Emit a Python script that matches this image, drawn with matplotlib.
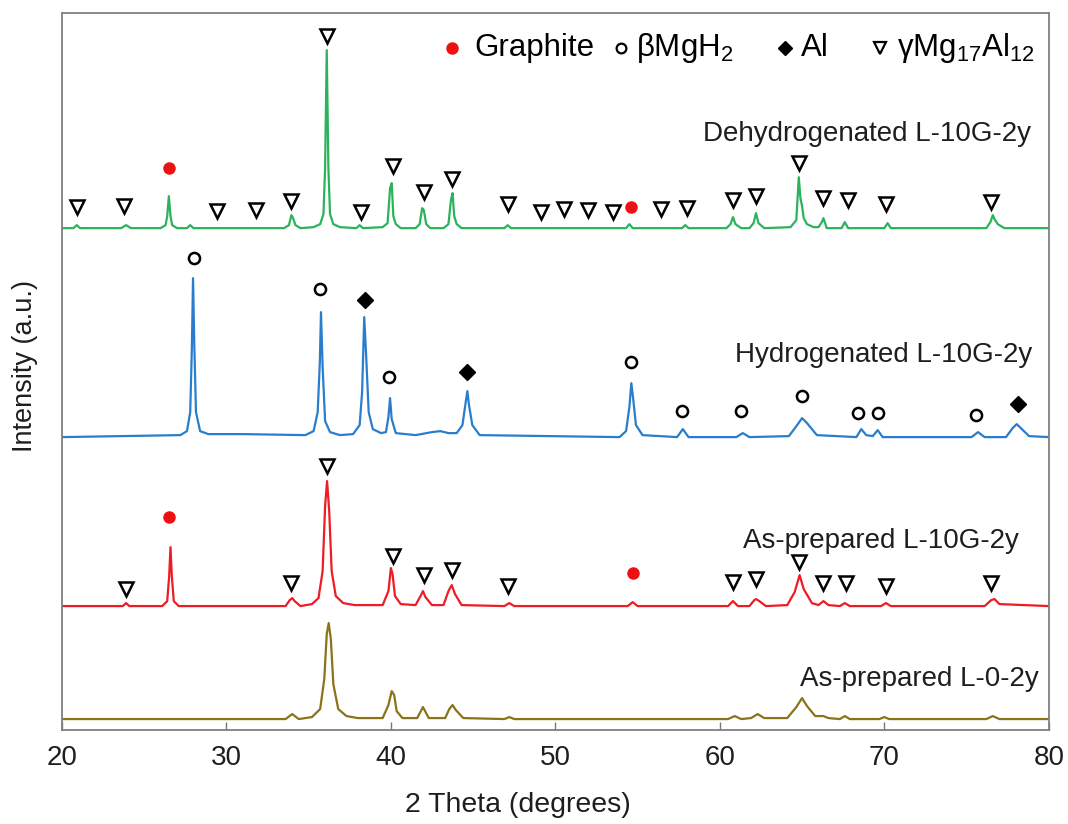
import matplotlib.pyplot as plt

plt.rcParams['font.family'] = ['Liberation Sans', 'DejaVu Sans']
plt.rcParams['mathtext.fontset'] = 'custom'
plt.rcParams['mathtext.rm'] = 'Liberation Sans'
plt.rcParams['mathtext.it'] = 'Liberation Sans'

# ---------------------------------------------------------------
# XRD patterns (2 theta, intensity above the trace's own baseline)
# ---------------------------------------------------------------
dehyd_x = [20, 20.7, 20.9, 21.1, 23.6, 23.9, 24.2, 26.0, 26.3, 26.4, 26.5, 26.6, 26.7, 27.0,
           27.6, 27.8, 28.0, 33.5, 33.8, 33.95, 34.05, 34.2, 34.5, 35.3, 35.7, 35.9, 36.0, 36.1,
           36.2, 36.3, 36.5, 36.9, 37.9, 38.1, 38.3, 39.5, 39.8, 39.95, 40.05, 40.15, 40.3, 40.6,
           41.5, 41.75, 41.9, 42.0, 42.15, 42.4, 43.2, 43.5, 43.65, 43.75, 43.85, 44.0, 44.3,
           46.9, 47.1, 47.3, 54.3, 54.5, 54.7, 57.7, 57.9, 58.1, 60.4, 60.65, 60.8, 60.95, 61.3,
           61.8, 62.05, 62.2, 62.35, 62.7, 64.3, 64.65, 64.8, 64.9, 65.0, 65.1, 65.3, 65.7, 66.0,
           66.2, 66.3, 66.5, 67.4, 67.6, 67.8, 70.0, 70.2, 70.4, 76.2, 76.45, 76.6, 76.7, 76.9,
           77.3, 80]
dehyd_y = [0, 0, 3, 0, 0, 3, 0, 0, 3, 12, 32, 12, 3, 0,
           0, 3, 0, 0, 3, 13, 10, 3, 0, 1, 4, 14, 60, 178,
           60, 14, 4, 1, 0, 3, 0, 1, 5, 40, 45, 12, 4, 0,
           0, 4, 20, 18, 4, 0, 0, 4, 28, 35, 12, 4, 0,
           0, 3, 0, 0, 4, 0, 0, 3, 0, 0, 4, 11, 4, 0,
           0, 5, 15, 5, 0, 1, 8, 51, 30, 22, 10, 4, 1, 1,
           6, 10, 0, 0, 6, 0, 0, 5, 0, 0, 6, 13, 9, 4,
           0, 0]

hyd_x = [20, 27.2, 27.6, 27.8, 27.9, 27.97, 28.05, 28.15, 28.4, 28.9, 31.0, 34.8, 35.3, 35.55,
         35.68, 35.75, 35.85, 36.0, 36.3, 36.9, 37.7, 38.1, 38.25, 38.38, 38.5, 38.65, 38.9, 39.4,
         39.7, 39.85, 39.95, 40.05, 40.3, 41.5, 42.5, 43.0, 43.5, 44.0, 44.35, 44.55, 44.65, 44.75,
         44.95, 45.4, 53.9, 54.3, 54.5, 54.62, 54.72, 54.9, 55.3, 57.4, 57.75, 58.1, 61.0, 61.4,
         61.8, 64.2, 64.7, 65.0, 65.3, 65.9, 68.3, 68.6, 68.9, 69.3, 69.6, 69.9, 75.3, 75.7, 76.1,
         77.4, 77.8, 78.05, 78.3, 78.8, 80]
hyd_y = [0, 2, 6, 25, 90, 159, 90, 25, 6, 3, 3, 2, 6, 25,
         75, 125, 70, 16, 5, 2, 3, 12, 45, 120, 80, 25, 8, 4,
         5, 20, 39, 18, 4, 2, 5, 6, 4, 4, 12, 35, 46, 32,
         12, 2, 0, 6, 30, 54, 40, 12, 2, 0, 8, 0, 0, 4,
         0, 1, 12, 19, 14, 2, 0, 8, 2, 1, 7, 0, 0, 5, 0,
         0, 9, 13, 9, 1, 0]

asp10_x = [20, 23.7, 23.9, 24.1, 26.1, 26.4, 26.52, 26.6, 26.68, 26.8, 27.1, 33.6, 33.85, 34.0,
           34.15, 34.5, 35.2, 35.6, 35.85, 36.0, 36.12, 36.25, 36.4, 36.65, 37.1, 37.8, 39.5,
           39.85, 40.0, 40.1, 40.25, 40.6, 41.5, 41.8, 41.95, 42.1, 42.5, 43.2, 43.5, 43.7, 43.9,
           44.3, 46.9, 47.2, 47.5, 54.4, 54.7, 55.0, 60.5, 60.8, 61.1, 61.8, 62.1, 62.2, 62.4,
           62.8, 64.1, 64.55, 64.85, 65.1, 65.6, 66.0, 66.3, 66.6, 67.3, 67.6, 67.9, 69.8, 70.1,
           70.4, 76.1, 76.5, 76.7, 77.0, 80]
asp10_y = [0, 0, 3, 0, 0, 5, 30, 59, 30, 5, 0, 0, 6, 8,
           5, 0, 2, 8, 35, 100, 125, 95, 35, 10, 3, 1, 1,
           15, 38, 32, 10, 2, 1, 10, 15, 9, 1, 1, 15, 21, 12,
           1, 0, 3, 0, 0, 4, 0, 0, 5, 0, 0, 6, 7, 5,
           0, 1, 14, 31, 17, 3, 1, 5, 1, 0, 3, 0, 0, 3,
           0, 0, 6, 7, 2, 0]

asp0_x = [20, 33.6, 34.0, 34.4, 35.2, 35.7, 35.95, 36.1, 36.22, 36.35, 36.5, 36.8, 37.3, 38.0,
          39.5, 39.85, 40.05, 40.2, 40.35, 40.7, 41.6, 41.95, 42.3, 43.3, 43.55, 43.75, 43.95,
          44.4, 46.9, 47.2, 47.5, 60.5, 60.9, 61.3, 61.9, 62.3, 62.7, 64.1, 64.65, 65.0, 65.3,
          65.8, 66.3, 66.6, 67.3, 67.6, 67.9, 69.7, 70.0, 70.3, 76.2, 76.6, 77.0, 80]
asp0_y = [0, 0, 5, 0, 2, 10, 40, 85, 96, 80, 35, 10, 3, 1,
          1, 14, 28, 24, 8, 1, 1, 12, 1, 1, 10, 14, 9,
          1, 0, 2, 0, 0, 3, 0, 1, 5, 1, 1, 12, 21, 13,
          3, 3, 1, 0, 3, 0, 0, 2, 0, 0, 3, 0, 0]

sample_names = ['Dehydrogenated L-10G-2y', 'Hydrogenated L-10G-2y',
                'As-prepared L-10G-2y', 'As-prepared L-0-2y']
offsets = [502, 293, 124, 11]
colors = ['#2bb35c', '#2a7dcc', '#ee1c24', '#8a7318']

# phase markers (2 theta, absolute height on the stacked plot)
graphite_x = [26.5, 54.6, 26.5, 54.7]
graphite_y = [562, 523, 213, 157]
mgh2_x = [28.0, 35.7, 39.9, 54.6, 57.7, 61.3, 65.0, 68.4, 69.6, 75.6]
mgh2_y = [472, 441, 353, 368, 319, 319, 334, 317, 317, 315]
al_x = [38.4, 44.6, 78.1]
al_y = [430, 358, 326]
mg17_x = [20.9, 23.8, 29.4, 31.8, 33.9, 36.1, 38.2, 40.1, 42.0, 43.7, 47.1, 49.1, 50.5, 52.0, 53.5,
          56.4, 58.0, 60.8, 62.2, 64.8, 66.3, 67.8, 70.1, 76.5,
          23.9, 33.9, 36.1, 40.1, 42.0, 43.7, 47.1, 60.8, 62.2, 64.8, 66.3, 67.7, 70.1, 76.5]
mg17_y = [523, 524, 519, 520, 529, 694, 518, 564, 538, 551, 526, 518, 521, 520, 518,
          521, 522, 530, 534, 567, 532, 530, 526, 528,
          141, 147, 264, 174, 155, 160, 144, 148, 151, 168, 147, 147, 144, 147]

fig = plt.figure(figsize=(10.68, 8.24), dpi=100)
ax = fig.add_axes([0.058, 0.114, 0.924, 0.870])

traces = [(dehyd_x, dehyd_y), (hyd_x, hyd_y), (asp10_x, asp10_y), (asp0_x, asp0_y)]
for (tx, ty), off, c in zip(traces, offsets, colors):
    ax.plot(tx, [v + off for v in ty], color=c, lw=1.6)

ax.plot(graphite_x, graphite_y, 'o', ms=9, color='#ee1111', mec='none')
ax.plot(mgh2_x, mgh2_y, 'o', ms=8, mfc='white', mec='black', mew=1.8)
ax.plot(al_x, al_y, 'D', ms=8, color='black')
ax.plot(mg17_x, mg17_y, 'v', ms=10, mfc='white', mec='black', mew=1.8)

# sample labels
label_x = [78.9, 79.0, 78.2, 79.4]
label_y = [596, 375, 189, 51]
for name, lx, ly in zip(sample_names, label_x, label_y):
    ax.text(lx, ly, name, ha='right', va='center', fontsize=20, color='#1e1e1e')

# phase key at the top
tr = ax.transAxes
ax.plot([0.395], [0.951], 'o', ms=9, color='#ee1111', mec='none', transform=tr)
ax.text(0.4175, 0.951, 'Graphite', transform=tr, ha='left', va='center', fontsize=22.5)
ax.plot([0.567], [0.951], 'o', ms=7, mfc='white', mec='black', mew=1.6, transform=tr)
ax.text(0.5816, 0.951, r'βMgH$_2$', transform=tr, ha='left', va='center', fontsize=22.5)
ax.plot([0.7325], [0.951], 'D', ms=7, color='black', transform=tr)
ax.text(0.7487, 0.951, 'Al', transform=tr, ha='left', va='center', fontsize=22.5)
ax.plot([0.8288], [0.951], 'v', ms=8, mfc='white', mec='black', mew=1.6, transform=tr)
ax.text(0.846, 0.951, r'γMg$_{17}$Al$_{12}$', transform=tr, ha='left', va='center', fontsize=22.5)

ax.set_xlim(20, 80)
ax.set_ylim(0, 717)
ax.set_xticks(range(20, 81, 10))
ax.set_yticks([])
ax.tick_params(axis='x', direction='in', length=6, width=1, colors='#777777',
               labelcolor='#1e1e1e', labelsize=20, pad=11)
for s in ax.spines.values():
    s.set_color('#808080')
    s.set_linewidth(1.3)

ax.set_xlabel('2 Theta (degrees)', fontsize=20.5, color='#1e1e1e')
ax.xaxis.set_label_coords(0.462, -0.087)
ax.set_ylabel('Intensity (a.u.)', fontsize=19.5, color='#1e1e1e')
ax.yaxis.set_label_coords(-0.024, 0.508)

fig.savefig('out.png', dpi=100)
